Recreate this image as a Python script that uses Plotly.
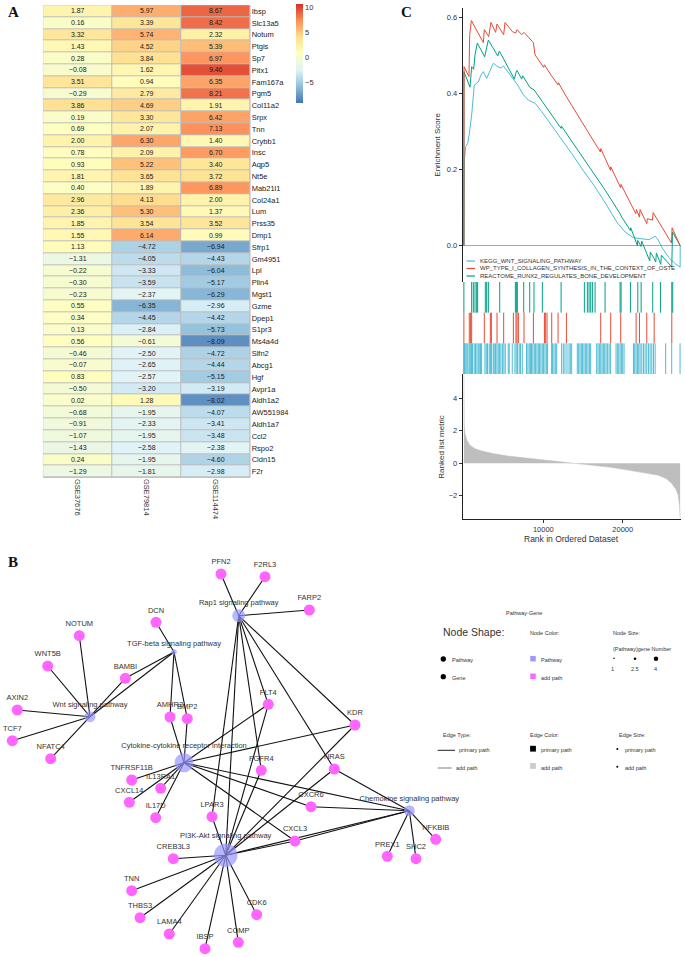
import plotly.graph_objects as go

W, H = 685, 957
FONT = "Liberation Sans, Arial, sans-serif"

# ---------------- Panel A: heatmap data ----------------
genes = ["Ibsp", "Slc13a5", "Notum", "Ptgis", "Sp7", "Pitx1", "Fam167a", "Pgm5", "Col11a2", "Srpx",
         "Tnn", "Crybb1", "Insc", "Aqp5", "Nt5e", "Mab21l1", "Col24a1", "Lum", "Prss35", "Dmp1",
         "Sfrp1", "Gm4951", "Lpl", "Plin4", "Mgst1", "Gzme", "Dpep1", "S1pr3", "Ms4a4d", "Slfn2",
         "Abcg1", "Hgf", "Avpr1a", "Aldh1a2", "AW551984", "Aldh1a7", "Ccl2", "Rspo2", "Cldn15", "F2r"]
datasets = ["GSE37676", "GSE79814", "GSE114474"]
gse37676 = [1.87, 0.16, 3.32, 1.43, 0.28, -0.08, 3.51, -0.29, 3.86, 0.19,
            0.69, 2.00, 0.78, 0.93, 1.81, 0.40, 2.96, 2.36, 1.85, 1.55,
            1.13, -1.31, -0.22, -0.30, -0.23, 0.55, 0.34, 0.13, 0.56, -0.46,
            -0.07, 0.83, -0.50, 0.02, -0.68, -0.91, -1.07, -1.43, 0.24, -1.29]
gse79814 = [5.97, 3.39, 5.74, 4.52, 3.84, 1.62, 0.94, 2.79, 4.69, 3.30,
            2.07, 6.30, 2.09, 5.22, 3.65, 1.89, 4.13, 5.30, 3.54, 6.14,
            -4.72, -4.05, -3.33, -3.59, -2.37, -6.35, -4.45, -2.84, -0.61, -2.50,
            -2.65, -2.57, -3.20, 1.28, -1.95, -2.33, -1.95, -2.58, -1.95, -1.81]
gse114474 = [8.67, 8.42, 2.32, 5.39, 6.97, 9.46, 6.35, 8.21, 1.91, 6.42,
             7.13, 1.40, 6.70, 3.40, 3.72, 6.89, 2.00, 1.37, 3.52, 0.99,
             -6.94, -4.43, -6.04, -5.17, -6.29, -2.96, -4.42, -5.73, -8.09, -4.72,
             -4.44, -5.15, -3.19, -8.02, -4.07, -3.41, -3.48, -2.38, -4.60, -2.98]
cbar_ticks = [-5, 0, 5, 10]
heat_colors = ["#4575B4", "#91BFDB", "#E0F3F8", "#FFFFBF", "#FEE090", "#FC8D59", "#D73027"]

# ---------------- Panel C: GSEA data ----------------
set_names = ["KEGG_WNT_SIGNALING_PATHWAY",
             "WP_TYPE_I_COLLAGEN_SYNTHESIS_IN_THE_CONTEXT_OF_OSTE",
             "REACTOME_RUNX2_REGULATES_BONE_DEVELOPMENT"]
set_colors = ["#4DBBD5", "#E64B35", "#00A087"]

kegg_rank = [0, 5, 55, 230, 480, 690, 980, 1310, 1820, 2150, 2450, 2870, 3290, 3710, 4130, 4680,
             4970, 5390, 5810, 6230, 6860, 7490, 8120, 8960, 9800, 10430, 11060, 11900, 13580,
             14840, 16520, 17990, 19250, 20300, 21350, 22400, 23330, 24080, 24500, 24920, 25760,
             26600, 27230, 27240]
kegg_es = [0.0, 0.220, 0.225, 0.260, 0.268, 0.295, 0.343, 0.422, 0.430, 0.448, 0.457, 0.439, 0.461,
           0.479, 0.472, 0.466, 0.472, 0.461, 0.451, 0.437, 0.419, 0.396, 0.382, 0.374, 0.352,
           0.334, 0.317, 0.290, 0.242, 0.203, 0.154, 0.106, 0.062, 0.036, 0.021, 0.018, 0.016,
           0.025, 0.014, -0.004, -0.030, -0.047, -0.056, 0.0]

wp_rank = [0, 10, 20, 640, 730, 940, 2450, 2570, 3120, 3410, 4000, 4170, 5010, 5180, 6100, 6520,
           6690, 7280, 7570, 8750, 8960, 10050, 10130, 10970, 11860, 11900, 12910, 17190, 17240,
           18460, 18500, 19740, 19780, 21650, 21740, 22110, 22190, 23030, 23110, 23740, 23830,
           26140, 26220, 27230]
wp_es = [0.0, 0.374, 0.470, 0.444, 0.554, 0.591, 0.533, 0.567, 0.549, 0.586, 0.560, 0.582, 0.554,
         0.586, 0.562, 0.558, 0.567, 0.554, 0.560, 0.533, 0.501, 0.468, 0.475, 0.448, 0.422, 0.428,
         0.391, 0.246, 0.255, 0.198, 0.207, 0.152, 0.161, 0.084, 0.095, 0.075, 0.095, 0.058, 0.071,
         0.067, 0.087, 0.007, 0.047, 0.0]

reactome_rank = [0, 5, 770, 980, 1230, 1310, 1400, 1690, 2620, 3080, 4260, 4470, 6360, 6530, 6700,
                 7280, 7410, 8290, 8840, 9890, 12240, 12280, 15180, 16520, 17780, 19670, 19880,
                 20970, 21010, 21850, 21890, 22310, 22390, 23400, 23480, 23860, 24160, 24240,
                 24790, 24870, 26180, 26270, 27230]
reactome_es = [0.0, 0.457, 0.416, 0.470, 0.463, 0.489, 0.501, 0.532, 0.496, 0.540, 0.498, 0.511,
               0.437, 0.453, 0.460, 0.437, 0.446, 0.416, 0.409, 0.378, 0.308, 0.314, 0.225, 0.185,
               0.146, 0.084, 0.075, 0.040, 0.047, 0.0, 0.014, -0.002, 0.012, -0.040, -0.017,
               -0.030, -0.043, -0.019, -0.049, -0.025, -0.056, 0.036, 0.0]

kegg_hits = [0, 20, 40, 140, 260, 390, 510, 680, 810, 970, 1090, 1300, 1470, 1640, 1810, 1930, 2100,
             2230, 2650, 2820, 2980, 3190, 3360, 3490, 3700, 3820, 3990, 4160, 4330, 4500, 4660,
             4870, 5040, 5210, 5590, 5710, 6090, 6430, 6590, 6760, 6970, 7140, 7350, 7890, 8060,
             8230, 8400, 8520, 8690, 8860, 9030, 9200, 9370, 9530, 9700, 9870, 10040, 10210,
             10380, 10540, 11050, 11170, 11340, 11510, 11680, 12310, 12520, 12730, 12980, 13240,
             13400, 13570, 14280, 14450, 14620, 14790, 14950, 15120, 15290, 15460, 15630, 15800,
             15960, 16720, 16890, 17060, 17230, 17400, 17560, 17730, 17900, 18070, 18280, 18450,
             19160, 19330, 19500, 19670, 19830, 20000, 20170, 21350, 21510, 21680, 21850, 22020,
             22190, 22400, 22610, 22820, 23030, 23240, 23450, 23660, 23870, 24080, 25410, 26170,
             27220]
wp_hits = [0, 680, 850, 980, 2570, 3330, 3460, 4170, 5010, 6230, 6560, 6690, 6860, 7570, 8750,
           10140, 10260, 10470, 11060, 11860, 12910, 17230, 18490, 19750, 21690, 22110, 23030,
           23960, 26180]
reactome_hits = [0, 980, 1190, 1400, 1610, 1730, 2700, 2870, 3080, 4510, 6480, 6610, 6730, 7530,
                 8290, 8830, 9880, 12240, 15170, 15550, 15760, 15970, 16180, 16520, 17780, 19670,
                 19800, 20970, 21900, 22320, 23780, 24750, 26180, 26300]

metric_rank = [0, 15, 40, 140, 400, 800, 1400, 2300, 3500, 5500, 7700, 10000, 11900, 14000, 16500,
               18500, 20300, 22500, 24500, 25500, 26180, 26700, 27000, 27150, 27230]
metric_value = [5.48, 3.2, 2.4, 1.83, 1.4, 1.1, 0.9, 0.75, 0.62, 0.45, 0.33, 0.22, 0.14, 0.0, -0.12,
                -0.25, -0.39, -0.55, -0.74, -0.95, -1.25, -1.6, -2.0, -2.6, -3.4]
rank_ticks = [10000, 20000]

# ---------------- Panel B: network data ----------------
pathway_names = ["Wnt signaling pathway", "TGF-beta signaling pathway", "Rap1 signaling pathway",
                 "Cytokine-cytokine receptor interaction", "PI3K-Akt signaling pathway",
                 "Chemokine signaling pathway"]
pathway_x = [90, 174, 238.7, 184, 225.7, 409.3]
pathway_y = [716.7, 652, 615.7, 762.7, 855.3, 810.7]
pathway_size = [11, 5.5, 13, 19, 23.5, 11]

gene_names = ["DCN", "NOTUM", "WNT5B", "BAMBI", "AXIN2", "TCF7", "NFATC4", "AMHR2", "BMP2",
              "TNFRSF11B", "IL13RA1", "CXCL14", "IL17D", "PFN2", "F2RL3", "FARP2", "FLT4", "KDR",
              "FGFR4", "NRAS", "LPAR3", "CREB3L3", "TNN", "THBS3", "LAMA4", "IBSP", "COMP", "CDK6",
              "CXCR6", "CXCL3", "NFKBIB", "PREX1", "SHC2"]
gene_x = [156, 79.3, 47.7, 125.3, 17.3, 12.3, 50.7, 170, 187.3, 131.7, 160.7, 129.3, 155.7, 221,
          265, 309.3, 268.3, 355, 261.3, 334.3, 212, 173.3, 131.7, 140, 169.3, 205, 238.3, 256.7,
          311, 295, 435.7, 387.3, 416]
gene_y = [622.3, 635.7, 666, 678.3, 710, 740.7, 758.7, 717, 718.7, 780, 788.3, 802.3, 817.7, 574,
          576.7, 610, 704.3, 725, 770.3, 769, 816.7, 858.7, 890.7, 917.7, 934, 948.7, 942.3, 914.7,
          806.7, 841, 839.3, 856.3, 858.7]
gene_size = 11

edges = [
    ("Wnt signaling pathway", g) for g in ["NOTUM", "WNT5B", "AXIN2", "TCF7", "NFATC4", "BAMBI",
                                           "TGF-beta signaling pathway"]
] + [
    ("TGF-beta signaling pathway", g) for g in ["DCN", "BAMBI", "AMHR2", "BMP2"]
] + [
    ("Cytokine-cytokine receptor interaction", g) for g in
    ["AMHR2", "BMP2", "TNFRSF11B", "IL13RA1", "CXCL14", "IL17D", "FLT4", "KDR", "CXCR6", "CXCL3",
     "Chemokine signaling pathway"]
] + [
    ("Rap1 signaling pathway", g) for g in
    ["PFN2", "F2RL3", "FARP2", "FGFR4", "KDR", "NRAS", "LPAR3", "PI3K-Akt signaling pathway", "FLT4"]
] + [
    ("PI3K-Akt signaling pathway", g) for g in
    ["LPAR3", "CREB3L3", "TNN", "THBS3", "LAMA4", "IBSP", "COMP", "CDK6", "FLT4", "KDR", "FGFR4",
     "NRAS", "CXCL3", "Chemokine signaling pathway"]
] + [
    ("Chemokine signaling pathway", g) for g in ["CXCR6", "CXCL3", "NRAS", "PREX1", "SHC2", "NFKBIB"]
]

# ---------------- helpers (pixel -> paper) ----------------
def pxx(x):
    return x / W


def pyy(y):
    return 1 - y / H


def fmt(v):
    return f"{v:.2f}".replace("-", "\u2212")


fig = go.Figure()

# ---------------- Panel A ----------------
z = [list(r) for r in zip(gse37676, gse79814, gse114474)]
txt = [[fmt(v) for v in r] for r in z]
n = len(heat_colors)
cscale = [[i / (n - 1), c] for i, c in enumerate(heat_colors)]
fig.add_trace(go.Heatmap(
    z=z, x=datasets, y=genes, text=txt, texttemplate="%{text}",
    textfont=dict(size=7, color="#222222", family=FONT),
    colorscale=cscale, zmin=-9.2, zmax=10.6, xgap=1, ygap=1,
    hoverinfo="skip",
    colorbar=dict(x=pxx(296), xanchor="left", y=pyy(4), yanchor="top", len=99, lenmode="pixels",
                  thickness=7, outlinewidth=0, xpad=0, ypad=0,
                  tickvals=cbar_ticks, ticktext=[str(t).replace("-", "\u2212") for t in cbar_ticks],
                  tickfont=dict(size=7.5, color="#333333", family=FONT)),
    xaxis="x", yaxis="y"))
fig.add_shape(type="rect", xref="x", yref="y", x0=-0.5, x1=len(datasets) - 0.5, y0=-0.5,
              y1=len(genes) - 0.5, fillcolor="#BDBDBD", line=dict(color="#BDBDBD", width=1),
              layer="below")

# ---------------- Panel C ----------------
for r, e, c in [(kegg_rank, kegg_es, set_colors[0]), (reactome_rank, reactome_es, set_colors[2]),
                (wp_rank, wp_es, set_colors[1])]:
    fig.add_trace(go.Scatter(x=r, y=e, mode="lines", line=dict(color=c, width=1),
                             hoverinfo="skip", showlegend=False, xaxis="x2", yaxis="y2"))

for hits, lo, c in [(kegg_hits, 0, set_colors[0]), (wp_hits, 1, set_colors[1]),
                    (reactome_hits, 2, set_colors[2])]:
    hx, hy = [], []
    for h in hits:
        hx += [h, h, None]
        hy += [lo, lo + 1, None]
    fig.add_trace(go.Scatter(x=hx, y=hy, mode="lines", line=dict(color=c, width=1),
                             hoverinfo="skip", showlegend=False, xaxis="x3", yaxis="y3"))

fig.add_trace(go.Scatter(x=metric_rank, y=metric_value, mode="lines", fill="tozeroy",
                         fillcolor="#BEBEBE", line=dict(color="#BEBEBE", width=0.5),
                         hoverinfo="skip", showlegend=False, xaxis="x4", yaxis="y4"))

# ---------------- Panel B ----------------
pos = {}
for nm, x, y in zip(pathway_names, pathway_x, pathway_y):
    pos[nm] = (x, y)
for nm, x, y in zip(gene_names, gene_x, gene_y):
    pos[nm] = (x, y)
ex, ey = [], []
for a, b in edges:
    ex += [pos[a][0], pos[b][0], None]
    ey += [pos[a][1], pos[b][1], None]
fig.add_trace(go.Scatter(x=ex, y=ey, mode="lines", line=dict(color="#111111", width=1.1),
                         hoverinfo="skip", showlegend=False, xaxis="x5", yaxis="y5",
                         cliponaxis=False))
fig.add_trace(go.Scatter(x=gene_x, y=gene_y, mode="markers+text", text=gene_names,
                         textposition="top center", cliponaxis=False,
                         textfont=dict(size=7.5, color="#333333", family=FONT),
                         marker=dict(size=gene_size, color="#FF66FF", line=dict(width=0)),
                         hoverinfo="skip", showlegend=False, xaxis="x5", yaxis="y5"))
fig.add_trace(go.Scatter(x=pathway_x, y=pathway_y, mode="markers+text", text=pathway_names,
                         textposition="top center", cliponaxis=False,
                         textfont=dict(size=7.5, color="#333333", family=FONT),
                         marker=dict(size=pathway_size, color="#9999FF", line=dict(width=0)),
                         hoverinfo="skip", showlegend=False, xaxis="x5", yaxis="y5"))

# ---------------- layout ----------------
xr = [-150, 27340]
fig.update_layout(
    width=W, height=H, margin=dict(l=0, r=0, t=0, b=0),
    paper_bgcolor="white", plot_bgcolor="rgba(0,0,0,0)",
    font=dict(family=FONT, color="#333333"),
    showlegend=False, hovermode=False,
    xaxis=dict(domain=[pxx(42.7), pxx(250.7)], anchor="y", tickangle=90, ticks="",
               showgrid=False, zeroline=False, showline=False,
               tickfont=dict(size=7.5, color="#333333")),
    yaxis=dict(domain=[pyy(477.9), pyy(4.8)], anchor="x", autorange="reversed", side="right",
               ticks="", showgrid=False, zeroline=False, showline=False,
               tickfont=dict(size=7.5, color="#222222")),
    xaxis2=dict(domain=[pxx(462.7), pxx(681)], anchor="y2", range=xr, showgrid=False,
                zeroline=False, showline=False, showticklabels=False, ticks=""),
    yaxis2=dict(domain=[pyy(281.5), pyy(8)], anchor="x2", range=[-0.094, 0.624],
                tickvals=[0, 0.2, 0.4, 0.6], ticktext=["0.0", "0.2", "0.4", "0.6"],
                ticks="outside", ticklen=3, tickcolor="#333333", showline=True,
                linecolor="#222222", linewidth=1, showgrid=False, zeroline=True,
                zerolinecolor="#A8A8A8", zerolinewidth=1,
                tickfont=dict(size=7.5, color="#333333")),
    xaxis3=dict(domain=[pxx(462.7), pxx(681)], anchor="y3", range=xr, visible=False),
    yaxis3=dict(domain=[pyy(374), pyy(282)], anchor="x3", range=[0, 3], visible=False),
    xaxis4=dict(domain=[pxx(462.7), pxx(681)], anchor="y4", range=xr, showgrid=False,
                zeroline=False, showline=True, linecolor="#222222", linewidth=1,
                ticks="outside", ticklen=3, tickcolor="#333333", tickvals=rank_ticks,
                ticktext=[str(t) for t in rank_ticks],
                tickfont=dict(size=7.5, color="#333333")),
    yaxis4=dict(domain=[pyy(519.3), pyy(374)], anchor="x4", range=[-3.45, 5.5],
                showgrid=False, zeroline=False, showline=True, linecolor="#222222", linewidth=1,
                ticks="outside", ticklen=3, tickcolor="#333333", tickvals=[-2, 0, 2, 4],
                tickfont=dict(size=7.5, color="#333333")),
    xaxis5=dict(domain=[0, 1], anchor="y5", range=[0, W], visible=False),
    yaxis5=dict(domain=[0, pyy(555)], anchor="x5", range=[H, 555], visible=False),
)

ann = []


def add_text(x, y, t, size, xanchor="left", angle=0, color="#333333", family=FONT):
    ann.append(dict(x=pxx(x), y=pyy(y), xref="paper", yref="paper", text=t, showarrow=False,
                    xanchor=xanchor, yanchor="middle", textangle=angle,
                    font=dict(size=size, color=color, family=family)))


# panel letters
for letter, x, y in [("A", 13, 12), ("B", 13, 562), ("C", 406, 12)]:
    add_text(x, y, f"<b>{letter}</b>", 15, xanchor="center", color="#111111",
             family="Liberation Serif, Times New Roman, serif")

# GSEA titles
add_text(437.7, 145, "Enrichment Score", 8, xanchor="center", angle=-90)
add_text(440.7, 447, "Ranked list metric", 8, xanchor="center", angle=-90)
add_text(571.7, 539.3, "Rank in Ordered Dataset", 8.5, xanchor="center")

# GSEA legend
for i, (nm, c) in enumerate(zip(set_names, set_colors)):
    yy = 261 + i * 7.5
    fig.add_shape(type="line", xref="paper", yref="paper", x0=pxx(466.5), x1=pxx(475),
                  y0=pyy(yy), y1=pyy(yy), line=dict(color=c, width=1.2))
    add_text(477.5, yy, nm, 6)

# network legend
add_text(524, 613.3, "Pathway-Gene", 5.5, xanchor="center")
add_text(440.7, 631.7, "Node Shape:", 10.5)
add_text(527.7, 633, "Node Color:", 5.5)
add_text(611, 633, "Node Size:", 5.5)
add_text(450, 660.3, "Pathway", 5.5)
add_text(450, 678.3, "Gene", 5.5)
add_text(539.3, 660.3, "Pathway", 5.5)
add_text(539.3, 678.3, "add path", 5.5)
add_text(611, 649.3, "(Pathway)gene Number", 5.5)
add_text(612.7, 669, "1", 5.5, xanchor="center")
add_text(635, 669, "2.5", 5.5, xanchor="center")
add_text(655.5, 669, "4", 5.5, xanchor="center")
add_text(440.7, 735, "Edge Type:", 5.5)
add_text(527.7, 735, "Edge Color:", 5.5)
add_text(617.3, 735, "Edge Size:", 5.5)
add_text(457.3, 750.3, "primary path", 5.5)
add_text(454, 768, "add path", 5.5)
add_text(539.3, 750.3, "primary path", 5.5)
add_text(539.3, 768, "add path", 5.5)
add_text(623.3, 750.3, "primary path", 5.5)
add_text(623.3, 768, "add path", 5.5)


def dot(cx, cy, d, color="#000000"):
    fig.add_shape(type="circle", xref="paper", yref="paper", x0=pxx(cx - d / 2),
                  x1=pxx(cx + d / 2), y0=pyy(cy + d / 2), y1=pyy(cy - d / 2),
                  fillcolor=color, line=dict(width=0))


def square(cx, cy, d, color):
    fig.add_shape(type="rect", xref="paper", yref="paper", x0=pxx(cx - d / 2),
                  x1=pxx(cx + d / 2), y0=pyy(cy + d / 2), y1=pyy(cy - d / 2),
                  fillcolor=color, line=dict(width=0))


dot(443.3, 659, 5.3)
dot(443.3, 676.7, 5.3)
square(533, 658.7, 5.5, "#9999FF")
square(533, 676.3, 5.5, "#FF66FF")
dot(614, 658.3, 1.5)
dot(635, 658.7, 2.6)
dot(656, 658.7, 4.5)
square(533, 748.7, 5.8, "#000000")
square(533, 766, 5.8, "#CCCCCC")
dot(617.3, 749, 2)
dot(617.3, 766.7, 2)
fig.add_shape(type="line", xref="paper", yref="paper", x0=pxx(437.7), x1=pxx(455),
              y0=pyy(750.3), y1=pyy(750.3), line=dict(color="#222222", width=1))
fig.add_shape(type="line", xref="paper", yref="paper", x0=pxx(437.7), x1=pxx(451.7),
              y0=pyy(768), y1=pyy(768), line=dict(color="#222222", width=0.6))

fig.update_layout(annotations=ann)
fig.write_html("out.html", config={"displayModeBar": False},
               post_script="document.body.style.margin='0px';")
